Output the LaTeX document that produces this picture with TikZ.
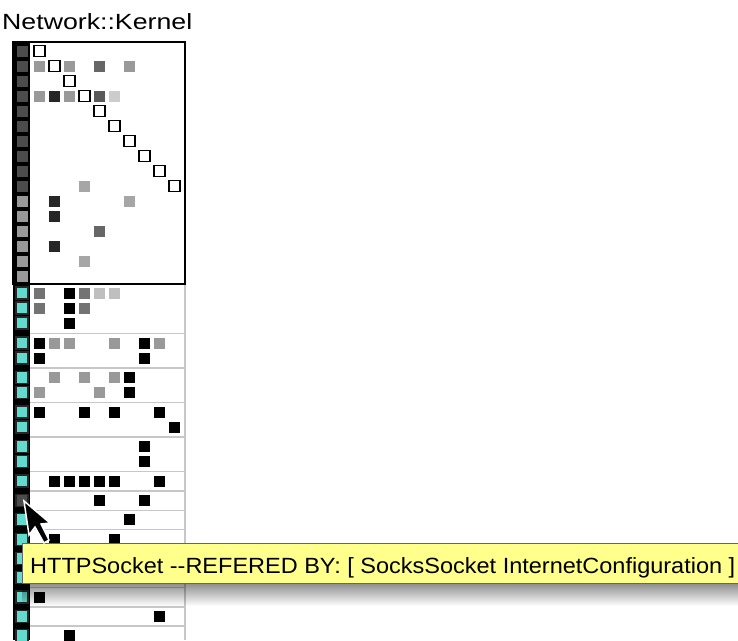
\documentclass[tikz,border=0pt]{standalone}
\usepackage{fontspec}
\setmainfont{Liberation Sans}
\usetikzlibrary{positioning,calc,fadings}

\definecolor{leafcyan}{RGB}{98,218,206}
\definecolor{tipyellow}{RGB}{255,255,140}

\tikzset{
	cell/.style={inner sep=0pt, minimum size=11pt, fill=#1},
	diag/.style={draw, line width=1.4pt, fill=white, inner sep=0pt, minimum size=11pt},
	leaf/.style={draw=black!85, line width=1.2pt, fill=#1, inner sep=0pt, minimum size=12pt},
	sepline/.style={draw=black!22, line width=1.5pt}
}

\begin{document}
\begin{tikzpicture}[x=1pt,y=-1pt]
		\useasboundingbox (0,0) rectangle (738,640);
		\fill[white] (0,0) rectangle (738,640);

		% title
		\node[anchor=base west, inner sep=0pt] (title) at (2,29) {\fontsize{22}{22}\selectfont\resizebox{190pt}{\height}{Network::Kernel}};

		% left strip and frame of the lower groups
		\fill[black] (13,42) rectangle (30,640);
		\draw[black!22, line width=1.5pt] (185,284) -- (185,640);
		\foreach \y in {333.5,368,402.5,437,471.5,491,510.3,529.6,548.9,568.2,587.5,606.8,626.1}
			\draw[sepline] (30,\y) -- (185,\y);

		% kernel box
		\draw[line width=1.5pt] (13,42) rectangle (185,284);
		\foreach \r in {1,...,10}
			\node[cell=black!70] (k\r) at (22,{51+15*(\r-1)}) {};
		\foreach \r in {11,...,16}
			\node[cell=black!40] (k\r) at (22,{51+15*(\r-1)}) {};
		\foreach \r/\c/\s in {2/1/40,2/3/40,2/5/60,2/7/40,4/1/40,4/2/85,4/3/40,4/5/65,4/6/20,
			10/4/35,11/2/85,11/7/35,12/2/85,13/5/60,14/2/85,15/4/35}
			\node[cell=black!\s] at ({39.5+15*(\c-1)},{51+15*(\r-1)}) {};
		\foreach \k in {1,...,10}
			\node[diag] (d\k) at ({39.5+15*(\k-1)},{51+15*(\k-1)}) {};

		% lower groups
		\foreach \y in {293,308,323,343,358,377.5,392.5,412,427,446.5,461.5,481,519.8,539.1,558.4,577.7,597,616.3,635.6}
			\node[leaf=leafcyan] at (22,\y) {};
		\node[leaf=black!70] (sel) at (22,500.5) {};
		\foreach \y/\c/\s in {293/1/55,293/3/100,293/4/55,293/5/25,293/6/25,
			308/1/55,308/3/100,308/4/55,323/3/100,
			343/1/100,343/2/40,343/3/40,343/6/40,343/8/100,343/9/40,358/1/100,358/8/100,
			377.5/2/40,377.5/4/40,377.5/6/40,377.5/7/100,392.5/1/40,392.5/5/40,392.5/7/100,
			412/1/100,412/4/100,412/6/100,412/9/100,427/10/100,
			446.5/8/100,461.5/8/100,
			481/2/100,481/3/100,481/4/100,481/5/100,481/6/100,481/9/100,
			500.5/5/100,500.5/8/100,519.8/7/100,539.1/2/100,539.1/6/100,
			597/1/100,616.3/9/100,635.6/3/100}
			\node[cell=black!\s] at ({39.5+15*(\c-1)},\y) {};

		% tooltip
		\fill[black, opacity=0.45, path fading=south] (22,583) rectangle (738,606);
		\node[draw=black!60, line width=0.8pt, fill=tipyellow, anchor=north west, inner sep=0pt,
			minimum width=730pt, minimum height=40pt] (tip) at (22,543) {};
		\node[anchor=base west, inner sep=0pt] (tiptext) at (30,573) {\fontsize{22}{22}\selectfont\resizebox{705pt}{\height}{HTTPSocket -{}-REFERED BY: [ SocksSocket InternetConfiguration ]}};

		% pointer
		\filldraw[fill=black, draw=white, line width=1.5pt, line join=miter]
			(24,501) -- (29,535) -- (35,527) -- (44,543) -- (49,540) -- (41,524) -- (50,523) -- cycle;
	\end{tikzpicture}
\end{document}
